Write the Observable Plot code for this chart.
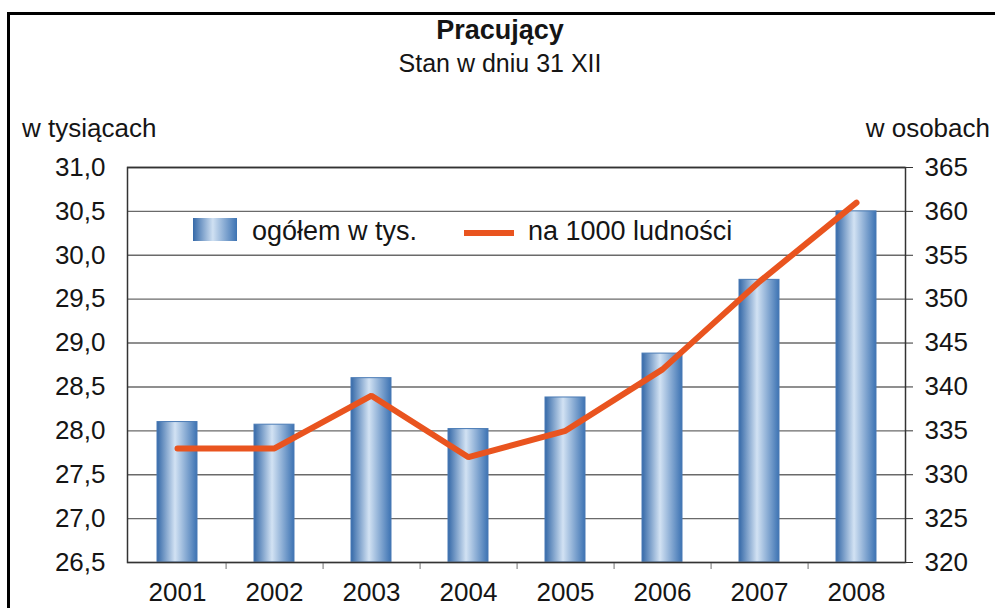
<!DOCTYPE html>
<html><head><meta charset="utf-8">
<script src="https://cdn.jsdelivr.net/npm/d3@7"></script>
<script src="https://cdn.jsdelivr.net/npm/@observablehq/plot@0.6"></script>
<style>
body{margin:0;background:#fff;font-family:"Liberation Sans",Arial,sans-serif;}
#wrap{position:relative;width:995px;height:608px;overflow:hidden;background:#fff;}
.t{position:absolute;white-space:nowrap;color:#151515;line-height:1;z-index:2;}
#chart{position:absolute;left:0;top:0;z-index:1;}
</style></head><body>
<div id="wrap">
  <div style="position:absolute;left:7px;top:12px;width:1100px;height:700px;border-left:3px solid #000;border-top:3px solid #000;z-index:3"></div>
  <div class="t" style="left:0;width:1000px;text-align:center;top:17px;font-size:27px;font-weight:bold">Pracujący</div>
  <div class="t" style="left:0;width:1000px;text-align:center;top:51px;font-size:25px">Stan w dniu 31 XII</div>
  <div class="t" style="left:22px;top:115px;font-size:26px">w tysiącach</div>
  <div class="t" style="right:5px;top:115px;font-size:26px">w osobach</div>
  <div class="t" style="left:193px;top:218px;width:44px;height:23px;background:linear-gradient(to right,#3569a8,#cfe0f2 45%,#3d73b3);"></div>
  <div class="t" style="left:252px;top:218px;font-size:27px">ogółem w tys.</div>
  <div class="t" style="left:464px;top:230px;width:50px;height:6px;background:#e9541f;"></div>
  <div class="t" style="left:528px;top:218px;font-size:27px">na 1000 ludności</div>
  <div id="chart"></div>
</div>
<script>
const years = ["2001","2002","2003","2004","2005","2006","2007","2008"];
const employedThousands = [28.1, 28.07, 28.6, 28.02, 28.38, 28.88, 29.72, 30.5];
const perThousandPop = [333, 333, 339, 332, 335, 342, 352, 361];
const leftTicks = [26.5, 27.0, 27.5, 28.0, 28.5, 29.0, 29.5, 30.0, 30.5, 31.0];
const rightTicks = [320, 325, 330, 335, 340, 345, 350, 355, 360, 365];

const lo = leftTicks[0], hi = leftTicks[leftTicks.length-1];
const rlo = rightTicks[0], rhi = rightTicks[rightTicks.length-1];
const toLeft = v => lo + (v - rlo) * (hi - lo) / (rhi - rlo);

const data = years.map((y, i) => ({year: y, emp: employedThousands[i], per: perThousandPop[i]}));

const chart = Plot.plot({
  width: 995, height: 608,
  marginTop: 167, marginBottom: 46, marginLeft: 127, marginRight: 90,
  style: {fontFamily: "Liberation Sans, Arial, sans-serif", fontSize: "26px", color: "#151515", background: "transparent", overflow: "visible"},
  x: {domain: years, paddingInner: 0.59, paddingOuter: 0.295, label: null},
  y: {domain: [lo, hi], label: null},
  marks: [
    Plot.ruleY(leftTicks.slice(1, -1), {stroke: "#6a6a6a", strokeWidth: 1.4}),
    Plot.barY(data, {x: "year", y1: lo, y2: "emp", fill: "url(#barGrad)", stroke: "#4a7bb5", strokeWidth: 1}),
    Plot.ruleX(years.slice(0, -1), {x: d => d, y1: lo, y2: lo, dx: 48.6, insetBottom: -7, stroke: "#888", strokeWidth: 1.2}),
    Plot.ruleY([lo], {stroke: "#9a9a9a", strokeWidth: 1.5}),
    Plot.line(data, {x: "year", y: d => toLeft(d.per), stroke: "#e9541f", strokeWidth: 6, strokeLinejoin: "miter"}),
    Plot.axisY({ticks: leftTicks, anchor: "left", tickSize: 0, tickPadding: 22,
      tickFormat: d => d.toFixed(1).replace(".", ",")}),
    Plot.axisY({ticks: leftTicks, anchor: "right", tickSize: 7, tickPadding: 12, stroke: "#333",
      tickFormat: d => String(rightTicks[leftTicks.indexOf(d)])}),
    Plot.axisX({tickSize: 0, tickPadding: 20}),
    Plot.ruleY([hi], {stroke: "#333", strokeWidth: 1.5}),
    Plot.frame({stroke: "#333", strokeWidth: 1.5, fill: "none"})
  ]
});

const defs = d3.select(chart).insert("defs", ":first-child");
const g = defs.append("linearGradient").attr("id", "barGrad").attr("x1", 0).attr("x2", 1).attr("y1", 0).attr("y2", 0);
g.append("stop").attr("offset", "0%").attr("stop-color", "#3569a8");
g.append("stop").attr("offset", "45%").attr("stop-color", "#d2e2f3");
g.append("stop").attr("offset", "100%").attr("stop-color", "#3d73b3");

document.getElementById("chart").appendChild(chart);
</script>
</body></html>
